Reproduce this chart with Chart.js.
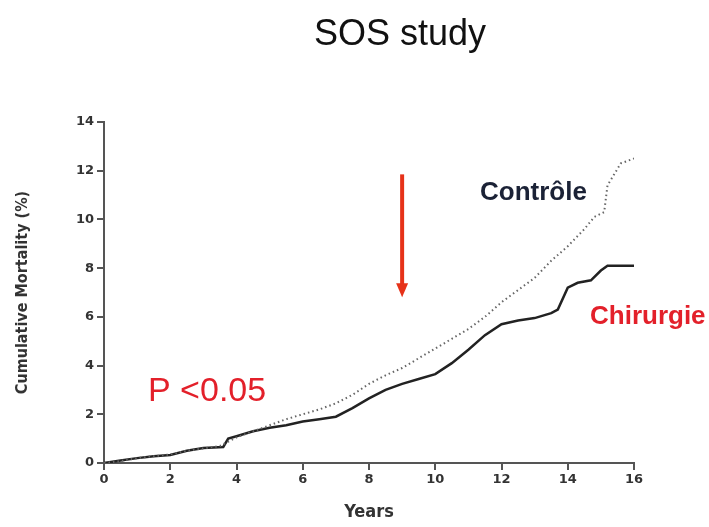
<!DOCTYPE html>
<html>
<head>
<meta charset="utf-8">
<script src="https://cdn.jsdelivr.net/npm/chart.js@4"></script>
<style>
  html, body { margin: 0; padding: 0; background: #fff; }
  #wrap { width: 709px; height: 527px; }
</style>
</head>
<body>
<div id="wrap"><canvas id="sosChart" width="709" height="527"></canvas></div>
<script>
// surgery group (solid)
const surgeryYears = [0, 0.5, 1, 1.5, 2, 2.5, 3, 3.6, 3.75, 4, 4.5, 5, 5.5, 6, 6.5, 7, 7.5, 8, 8.5, 9, 9.5, 10, 10.5, 11, 11.5, 12, 12.5, 13, 13.5, 13.7, 14, 14.3, 14.7, 15, 15.2, 16];
const surgeryMortality = [0, 0.1, 0.2, 0.28, 0.33, 0.5, 0.62, 0.66, 1.0, 1.1, 1.3, 1.45, 1.55, 1.7, 1.8, 1.9, 2.25, 2.65, 3.0, 3.25, 3.45, 3.65, 4.1, 4.65, 5.25, 5.7, 5.85, 5.95, 6.15, 6.3, 7.2, 7.4, 7.5, 7.9, 8.1, 8.1];

// control group (dotted)
const controlYears = [0, 0.5, 1, 1.5, 2, 2.5, 3, 3.5, 4, 4.5, 5, 5.5, 6, 6.5, 7, 7.5, 8, 8.5, 9, 9.5, 10, 10.5, 11, 11.5, 12, 12.5, 13, 13.5, 14, 14.5, 14.8, 15.1, 15.2, 15.6, 16];
const controlMortality = [0, 0.08, 0.2, 0.28, 0.35, 0.5, 0.6, 0.7, 1.05, 1.3, 1.55, 1.8, 2.0, 2.2, 2.45, 2.8, 3.25, 3.6, 3.9, 4.3, 4.7, 5.1, 5.5, 6.0, 6.6, 7.1, 7.6, 8.3, 8.9, 9.6, 10.1, 10.3, 11.4, 12.3, 12.5];

const xTicks = [0, 2, 4, 6, 8, 10, 12, 14, 16];
const yTicks = [0, 2, 4, 6, 8, 10, 12, 14];

// arrow at year 9, from / to (%)
const arrowYear = 9;
const arrowFrom = 11.85;
const arrowTo = 6.8;

function toPoints(xs, ys) {
  return xs.map((x, i) => ({ x: x, y: ys[i] }));
}

const axisColor = '#555555';
const tickFont = { family: 'DejaVu Sans', size: 13, weight: 'bold' };

const annotations = {
  id: 'annotations',
  afterDraw(chart) {
    const ctx = chart.ctx;
    const xs = chart.scales.x, ys = chart.scales.y;
    ctx.save();

    // title
    ctx.fillStyle = '#111';
    ctx.font = '36px "Liberation Sans", Arial, sans-serif';
    ctx.textAlign = 'center';
    ctx.textBaseline = 'alphabetic';
    ctx.fillText('SOS study', 400, 45);

    // arrow
    const ax = xs.getPixelForValue(arrowYear);
    const y1 = ys.getPixelForValue(arrowFrom);
    const y2 = ys.getPixelForValue(arrowTo);
    ctx.strokeStyle = '#e63219';
    ctx.fillStyle = '#e63219';
    ctx.lineWidth = 4;
    ctx.beginPath();
    ctx.moveTo(ax, y1);
    ctx.lineTo(ax, y2 - 12);
    ctx.stroke();
    ctx.beginPath();
    ctx.moveTo(ax - 6, y2 - 14);
    ctx.lineTo(ax + 6, y2 - 14);
    ctx.lineTo(ax, y2);
    ctx.closePath();
    ctx.fill();

    // labels
    ctx.textAlign = 'left';
    ctx.font = 'bold 26px "Liberation Sans", Arial, sans-serif';
    ctx.fillStyle = '#1b2236';
    ctx.fillText('Contrôle', 480, 200);
    ctx.fillStyle = '#e3202a';
    ctx.fillText('Chirurgie', 590, 324);
    ctx.font = '34px "Liberation Sans", Arial, sans-serif';
    ctx.fillText('P <0.05', 148, 401);

    ctx.restore();
  }
};

const sosConfig = {
  type: 'line',
  data: {
    datasets: [
      {
        label: 'Contrôle',
        data: toPoints(controlYears, controlMortality),
        borderColor: '#666666',
        borderWidth: 2,
        borderDash: [1.5, 3],
        pointRadius: 0,
        tension: 0,
      },
      {
        label: 'Chirurgie',
        data: toPoints(surgeryYears, surgeryMortality),
        borderColor: '#222222',
        borderWidth: 2.5,
        pointRadius: 0,
        tension: 0,
      },
    ],
  },
  options: {
    responsive: false,
    animation: false,
    layout: { padding: { top: 122, right: 75, left: 0, bottom: 0 } },
    plugins: { legend: { display: false }, tooltip: { enabled: false } },
    scales: {
      x: {
        type: 'linear',
        min: 0,
        max: 16,
        afterFit: (s) => { s.height = 64; },
        afterBuildTicks: (s) => { s.ticks = xTicks.map(v => ({ value: v })); },
        border: { color: axisColor, width: 2 },
        grid: { drawOnChartArea: false, color: axisColor, lineWidth: 2, tickLength: 7 },
        ticks: { color: '#333', font: tickFont, padding: 2 },
        title: { display: true, text: 'Years', color: '#333', font: { family: 'DejaVu Sans Condensed', size: 18, weight: 'bold' }, padding: { top: 16 } },
      },
      y: {
        min: 0,
        max: 14,
        afterFit: (s) => { s.width = 104; },
        afterBuildTicks: (s) => { s.ticks = yTicks.map(v => ({ value: v })); },
        border: { color: axisColor, width: 2 },
        grid: { drawOnChartArea: false, color: axisColor, lineWidth: 2, tickLength: 7 },
        ticks: { color: '#333', font: tickFont, padding: 3 },
        title: { display: true, text: 'Cumulative Mortality (%)', color: '#333', font: { family: 'DejaVu Sans Condensed', size: 16, weight: 'bold' }, padding: { top: 13 } },
      },
    },
  },
  plugins: [annotations],
};

const sosChart = new Chart(document.getElementById('sosChart'), sosConfig);
</script>
</body>
</html>
